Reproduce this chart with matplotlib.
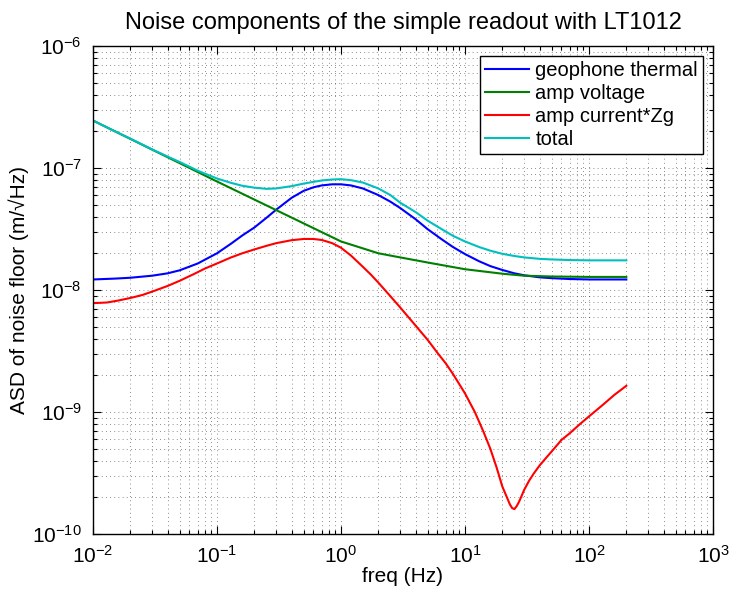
import matplotlib
matplotlib.use("Agg")
import matplotlib.pyplot as plt
from matplotlib.ticker import LogLocator, NullFormatter

plt.rcParams["font.family"] = ["Liberation Sans", "DejaVu Sans"]
plt.rcParams["mathtext.fontset"] = "custom"
plt.rcParams["mathtext.rm"] = "Liberation Sans"

# ── data ────────────────────────────────────────────────────────────────────
f_thermal = [0.01, 0.015, 0.02, 0.03, 0.04, 0.05, 0.07, 0.1, 0.13, 0.16, 0.2,
             0.25, 0.3, 0.4, 0.5, 0.6, 0.7, 0.85, 1.0, 1.2, 1.5, 2, 2.5, 3, 4,
             5, 6.5, 8, 10, 13, 16, 20, 25, 30, 40, 50, 70, 100, 200]
geophone_thermal = [1.22e-8, 1.24e-8, 1.26e-8, 1.31e-8, 1.37e-8, 1.45e-8,
                    1.65e-8, 2.0e-8, 2.4e-8, 2.8e-8, 3.25e-8, 3.9e-8, 4.55e-8,
                    5.7e-8, 6.5e-8, 6.95e-8, 7.2e-8, 7.35e-8, 7.35e-8, 7.2e-8,
                    6.8e-8, 6.0e-8, 5.3e-8, 4.7e-8, 3.8e-8, 3.15e-8, 2.6e-8,
                    2.25e-8, 1.97e-8, 1.72e-8, 1.57e-8, 1.46e-8, 1.37e-8,
                    1.32e-8, 1.27e-8, 1.25e-8, 1.23e-8, 1.22e-8, 1.22e-8]

f_voltage = [0.01, 0.1, 1.0, 2, 3, 5, 10, 20, 30, 50, 100, 200]
amp_voltage = [2.45e-7, 7.75e-8, 2.5e-8, 2.0e-8, 1.85e-8, 1.68e-8, 1.48e-8,
               1.36e-8, 1.31e-8, 1.29e-8, 1.28e-8, 1.28e-8]

f_current = [0.01, 0.013, 0.016, 0.02, 0.025, 0.03, 0.04, 0.05, 0.065, 0.08,
             0.1, 0.13, 0.16, 0.2, 0.25, 0.3, 0.4, 0.5, 0.6, 0.7, 0.85, 1.0,
             1.2, 1.5, 1.75, 2, 2.5, 3, 4, 5, 6, 7, 8, 10, 12, 14, 16, 18, 20,
             22, 23, 24, 25, 26, 27, 28, 30, 33, 36, 40, 45, 50, 60, 70, 85,
             100, 130, 160, 200]
amp_current = [7.8e-9, 7.9e-9, 8.2e-9, 8.6e-9, 9.1e-9, 9.7e-9, 1.08e-8,
               1.19e-8, 1.35e-8, 1.5e-8, 1.65e-8, 1.85e-8, 2.0e-8, 2.15e-8,
               2.3e-8, 2.42e-8, 2.56e-8, 2.62e-8, 2.62e-8, 2.57e-8, 2.42e-8,
               2.22e-8, 1.92e-8, 1.55e-8, 1.33e-8, 1.15e-8, 8.9e-9, 7.2e-9,
               5.1e-9, 3.9e-9, 3.05e-9, 2.5e-9, 2.05e-9, 1.42e-9, 1.0e-9,
               7.0e-10, 5.0e-10, 3.5e-10, 2.45e-10, 1.95e-10, 1.75e-10,
               1.63e-10, 1.6e-10, 1.68e-10, 1.8e-10, 1.95e-10, 2.3e-10,
               2.75e-10, 3.15e-10, 3.65e-10, 4.2e-10, 4.75e-10, 5.9e-10,
               6.7e-10, 8.0e-10, 9.2e-10, 1.15e-9, 1.38e-9, 1.64e-9]

f_total = [0.01, 0.015, 0.02, 0.03, 0.04, 0.05, 0.07, 0.1, 0.13, 0.16, 0.2,
           0.25, 0.3, 0.4, 0.5, 0.6, 0.7, 0.85, 1.0, 1.2, 1.5, 2, 2.5, 3, 4,
           5, 6.5, 8, 10, 13, 16, 20, 25, 30, 40, 50, 70, 100, 200]
total = [2.45e-7, 2.0e-7, 1.74e-7, 1.42e-7, 1.24e-7, 1.12e-7, 9.5e-8, 8.2e-8,
         7.55e-8, 7.15e-8, 6.9e-8, 6.75e-8, 6.8e-8, 7.1e-8, 7.45e-8, 7.7e-8,
         7.9e-8, 8.05e-8, 8.1e-8, 7.95e-8, 7.6e-8, 6.8e-8, 6.0e-8, 5.2e-8,
         4.35e-8, 3.7e-8, 3.15e-8, 2.78e-8, 2.5e-8, 2.25e-8, 2.1e-8, 1.98e-8,
         1.9e-8, 1.85e-8, 1.8e-8, 1.78e-8, 1.76e-8, 1.75e-8, 1.75e-8]

labels = ["geophone thermal", "amp voltage", "amp current*Zg", "total"]
colors = ["#0000ff", "#008000", "#ff0000", "#00bfbf"]

# ── figure ──────────────────────────────────────────────────────────────────
fig = plt.figure(figsize=(7.30, 5.97), dpi=100)
ax = fig.add_axes([93 / 730, 1 - 534 / 597, 620 / 730, 488 / 597])

series = [(f_thermal, geophone_thermal), (f_voltage, amp_voltage),
          (f_current, amp_current), (f_total, total)]
for (f, y), lab, c in zip(series, labels, colors):
    ax.loglog(f, y, color=c, lw=1.5, label=lab)

ax.set_xlim(1e-2, 1e3)
ax.set_ylim(1e-10, 1e-6)
ax.xaxis.set_major_locator(LogLocator(base=10, numticks=10))
ax.yaxis.set_major_locator(LogLocator(base=10, numticks=10))
ax.xaxis.set_minor_locator(LogLocator(base=10, subs=range(2, 10), numticks=20))
ax.yaxis.set_minor_locator(LogLocator(base=10, subs=range(2, 10), numticks=20))
ax.xaxis.set_minor_formatter(NullFormatter())
ax.yaxis.set_minor_formatter(NullFormatter())

ax.grid(True, which="both", color="black", linestyle=(0, (1, 4)), lw=0.6, alpha=0.6)
ax.tick_params(which="both", direction="in", top=True, right=True,
               labelsize=15, width=0.8)
ax.tick_params(which="major", length=6, pad=8)
ax.tick_params(which="minor", length=3)
for s in ax.spines.values():
    s.set_linewidth(1.0)

ax.set_xlabel("freq (Hz)", fontsize=15, labelpad=0)
ax.set_ylabel("ASD of noise floor (m/\u221aHz)", fontsize=15, labelpad=2)
ax.set_title("Noise components of the simple readout with LT1012",
             fontsize=17, pad=12)

leg = ax.legend(loc="upper right", fontsize=14.5, fancybox=False,
                framealpha=1, edgecolor="black", handlelength=2.2,
                borderaxespad=0.5, labelspacing=0.2, borderpad=0.25,
                handletextpad=0.3)
leg.get_frame().set_linewidth(1.0)

fig.savefig("out.png", dpi=100, facecolor="white")
